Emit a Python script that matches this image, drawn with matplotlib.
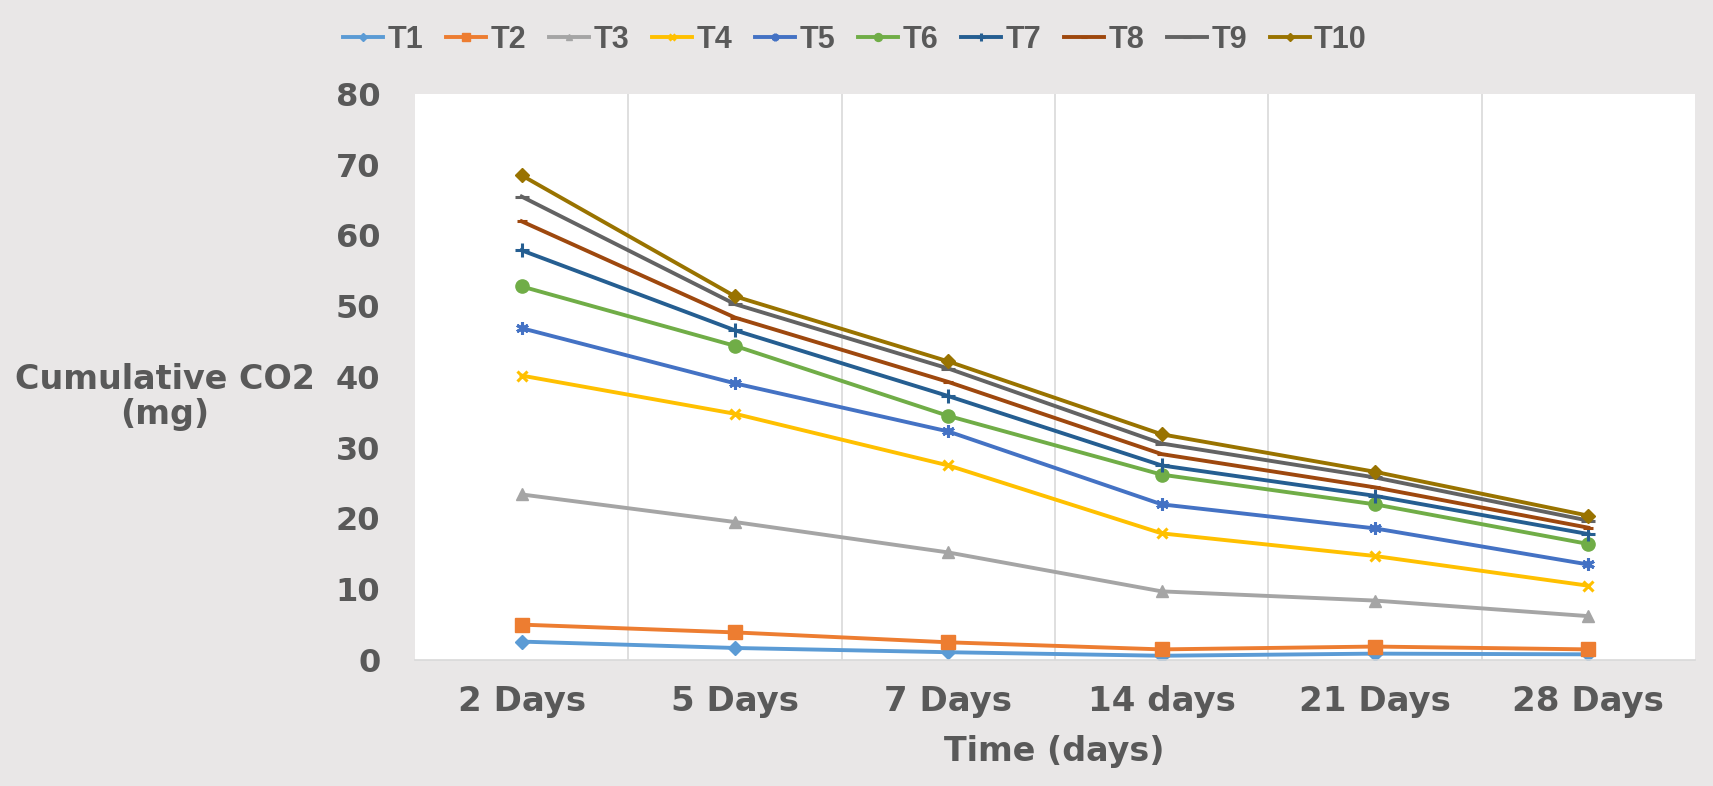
import matplotlib
matplotlib.use("Agg")
import matplotlib.pyplot as plt
import numpy as np

plt.rcParams['font.family'] = ['DejaVu Sans']

categories = ["2 Days", "5 Days", "7 Days", "14 days", "21 Days", "28 Days"]
series_names = ["T1", "T2", "T3", "T4", "T5", "T6", "T7", "T8", "T9", "T10"]

t1 = [2.6, 1.7, 1.1, 0.6, 0.9, 0.8]
t2 = [5.0, 3.9, 2.5, 1.5, 1.9, 1.5]
t3 = [23.4, 19.5, 15.2, 9.7, 8.4, 6.2]
t4 = [40.2, 34.8, 27.5, 17.9, 14.7, 10.5]
t5 = [46.9, 39.1, 32.3, 22.0, 18.6, 13.5]
t6 = [52.8, 44.4, 34.5, 26.2, 22.0, 16.4]
t7 = [57.9, 46.6, 37.3, 27.5, 23.2, 17.8]
t8 = [62.0, 48.4, 39.3, 29.1, 24.4, 18.7]
t9 = [65.5, 50.3, 41.2, 30.6, 25.8, 19.7]
t10 = [68.5, 51.4, 42.2, 31.9, 26.6, 20.4]
values = [t1, t2, t3, t4, t5, t6, t7, t8, t9, t10]

colors = ["#5B9BD5", "#ED7D31", "#A5A5A5", "#FFC000", "#4472C4",
          "#70AD47", "#255E91", "#9E480E", "#636363", "#997300"]
markers = ["D", "s", "^", "x", (6, 2, 0), "o", "+", "_", "_", "D"]
msizes = [7, 9.5, 8, 7, 9, 9.5, 10, 7, 10, 7]

bg = "#E9E7E7"
text_c = "#595959"

fig = plt.figure(figsize=(17.13, 7.86), dpi=100, facecolor=bg)
ax = fig.add_axes([415 / 1713, 1 - 660 / 786, 1280 / 1713, (660 - 94) / 786])
ax.set_facecolor("white")

x = np.arange(len(categories))
handles = []
for name, vals, c, m, ms in zip(series_names, values, colors, markers, msizes):
    thin = m in ("x", "+", "_") or isinstance(m, tuple)
    h, = ax.plot(x, vals, color=c, lw=2.8, marker=m, markersize=ms,
                 markeredgewidth=2.2 if thin else 1,
                 markeredgecolor=c, markerfacecolor=c, label=name)
    handles.append(h)

ax.set_xlim(-0.5, len(categories) - 0.5)
ax.set_ylim(0, 80)
ax.set_yticks(np.arange(0, 81, 10))
ax.set_xticks(x)
ax.set_xticklabels(categories)
ax.set_xticks(np.arange(0.5, len(categories) - 0.5, 1), minor=True)
ax.grid(True, which="minor", axis="x", color="#D9D9D9", lw=1.2)
ax.tick_params(which="both", length=0)
ax.tick_params(axis="y", labelsize=23, labelcolor=text_c, pad=25)
ax.tick_params(axis="x", labelsize=24.5, labelcolor=text_c, pad=18)
for lab in ax.get_xticklabels() + ax.get_yticklabels():
    lab.set_fontweight("bold")
for s in ("top", "right", "left"):
    ax.spines[s].set_visible(False)
ax.spines["bottom"].set_color("#D9D9D9")
ax.spines["bottom"].set_linewidth(1.2)

fig.text(165 / 1713, 1 - 397 / 786, "Cumulative CO2\n(mg)", ha="center", va="center",
         fontsize=24, fontweight="bold", color=text_c, linespacing=1.05)
fig.text(1054 / 1713, 1 - 752 / 786, "Time (days)", ha="center", va="center",
         fontsize=24, fontweight="bold", color=text_c)

leg = fig.legend(handles=handles, labels=series_names, loc="center",
                 bbox_to_anchor=(855 / 1713, 1 - 40 / 786), ncol=10, frameon=False,
                 handlelength=1.3, handletextpad=0.15, columnspacing=0.75,
                 markerscale=0.6, labelcolor=text_c,
                 prop={"family": "Liberation Sans", "weight": "bold", "size": 22})

fig.savefig("out.png", dpi=100, facecolor=bg)
